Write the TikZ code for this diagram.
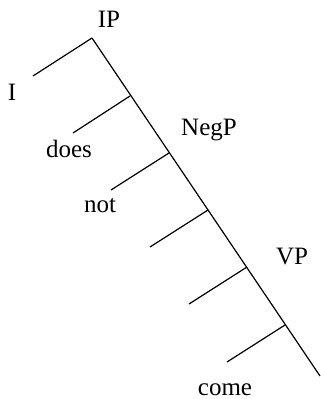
\documentclass[tikz,border=0pt]{standalone}
\usepackage{fontspec}
\setmainfont{Liberation Serif}
\usetikzlibrary{positioning}

\begin{document}
\begin{tikzpicture}[x=0.5pt,y=-0.5pt,font=\fontsize{12.5}{15}\selectfont,line width=0.6pt,
  lbl/.style={anchor=base,inner sep=0pt}]
  \useasboundingbox (0,0) rectangle (320,399);
  % spine
  \coordinate (top) at (92,38);
  \coordinate (b1) at (130,96);
  \coordinate (b2) at (169,153);
  \coordinate (b3) at (208,210);
  \coordinate (b4) at (247,267);
  \coordinate (b5) at (285,325);
  \coordinate (bot) at (320,376);
  % left ends
  \coordinate (e0) at (33,76);
  \coordinate (e1) at (73,133);
  \coordinate (e2) at (111,190);
  \coordinate (e3) at (150,247);
  \coordinate (e4) at (189,304);
  \coordinate (e5) at (227,362);
  \draw (top) -- (bot);
  \foreach \b/\e in {top/e0,b1/e1,b2/e2,b3/e3,b4/e4,b5/e5} \draw (\b) -- (\e);
  % labels
  \node[lbl] (ip) at (109,28) {IP};
  \node[lbl] (i) at (12,101) {I};
  \node[lbl] (does) at (69,158) {does};
  \node[lbl] (negp) at (209,136) {NegP};
  \node[lbl] (not) at (100,213) {not};
  \node[lbl] (vp) at (292,264) {VP};
  \node[lbl] (come) at (225,395) {come};
\end{tikzpicture}
\end{document}
